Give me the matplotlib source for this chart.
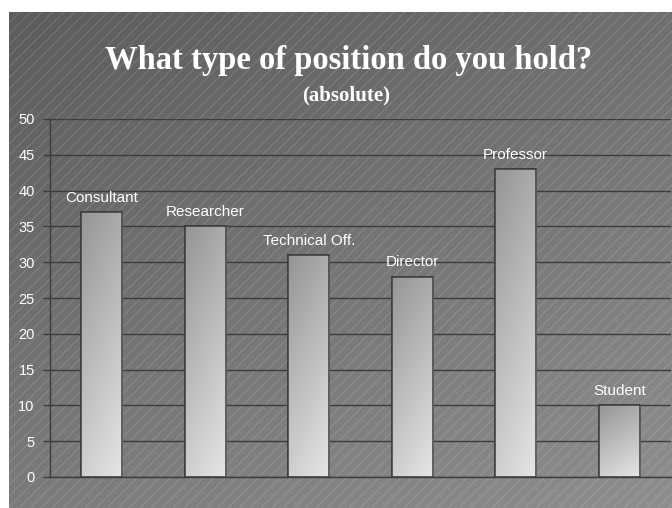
import numpy as np
import matplotlib
matplotlib.use("Agg")
import matplotlib.pyplot as plt
from matplotlib.collections import LineCollection
from matplotlib.colors import LinearSegmentedColormap

# data
positions = ["Consultant", "Researcher", "Technical Off.", "Director", "Professor", "Student"]
counts = [37, 35, 31, 28, 43, 10]
y_ticks = [0, 5, 10, 15, 20, 25, 30, 35, 40, 45, 50]

W, H = 672, 508
fig = plt.figure(figsize=(W / 100, H / 100), dpi=100, facecolor="white")

# background panel: grey gradient with fine diagonal lines
bg = fig.add_axes([9 / W, 0, (W - 9) / W, (H - 12) / H])
bg.set_axis_off()
pw, ph = W - 9, H - 12
xx, yy = np.meshgrid(np.linspace(0, 1, 200), np.linspace(1, 0, 200))
shade = (92 + 19 * xx + 31 * (1 - yy)) / 255.0
bg.imshow(shade, cmap="gray", vmin=0, vmax=1, extent=[0, pw, 0, ph],
          aspect="auto", interpolation="bilinear")
segs = [[(b, 0), (b + ph, ph)] for b in range(-ph, pw, 11)]
bg.add_collection(LineCollection(segs, colors=[(1, 1, 1, 0.17)], linewidths=0.6))
bg.set_xlim(0, pw)
bg.set_ylim(0, ph)

# titles
fig.text(349 / W, 1 - 69 / H, "What type of position do you hold?",
         family="Liberation Serif", weight="bold", size=23.5, color="white",
         ha="center", va="baseline")
fig.text(346 / W, 1 - 100 / H, "(absolute)", family="Liberation Serif",
         weight="bold", size=15, color="white", ha="center", va="baseline")

# main plot
ax = fig.add_axes([50 / W, 31 / H, 621 / W, 358 / H])
ax.set_facecolor("none")
x = np.arange(len(positions))
bars = ax.bar(x, counts, width=0.4, color="#cccccc", edgecolor="#3c3c3c",
              linewidth=1.1, zorder=2)

bar_cmap = LinearSegmentedColormap.from_list("barg", ["#959595", "#e6e6e6"])
gx, gy = np.meshgrid(np.linspace(0, 1, 40), np.linspace(1, 0, 120))
for b in bars:
    x0, y0 = b.get_x(), b.get_y()
    bw, bh = b.get_width(), b.get_height()
    grad = 0.72 * (1 - gy) + 0.28 * gx
    im = ax.imshow(grad, cmap=bar_cmap, vmin=0, vmax=1,
                   extent=[x0, x0 + bw, y0, y0 + bh], aspect="auto",
                   interpolation="bilinear", zorder=2.5)
    im.set_clip_path(b)
    # redraw the outline on top of the gradient
    ax.bar(x0 + bw / 2, bh, width=bw, color="none", edgecolor="#3c3c3c",
           linewidth=1.1, zorder=3)

for xi, c, name in zip(x, counts, positions):
    ax.annotate(name, (xi, c), xytext=(0, 7.5), textcoords="offset points",
                ha="center", va="baseline", color="white", size=11,
                family="Liberation Sans")

ax.set_xlim(-0.5, len(positions) - 0.5)
ax.set_ylim(0, 50)
ax.set_yticks(y_ticks)
ax.set_xticks([])
ax.yaxis.grid(True, color="#3c3c3c", linewidth=1.0)
ax.set_axisbelow(True)
ax.tick_params(axis="y", colors="#3c3c3c", length=5, width=1.0, pad=6,
               labelcolor="white", labelsize=10.5)
for lab in ax.get_yticklabels():
    lab.set_family("Liberation Sans")
for side in ("top", "right"):
    ax.spines[side].set_visible(False)
for side in ("left", "bottom"):
    ax.spines[side].set_color("#3c3c3c")
    ax.spines[side].set_linewidth(1.0)

fig.savefig("out.png", dpi=100, facecolor="white")
